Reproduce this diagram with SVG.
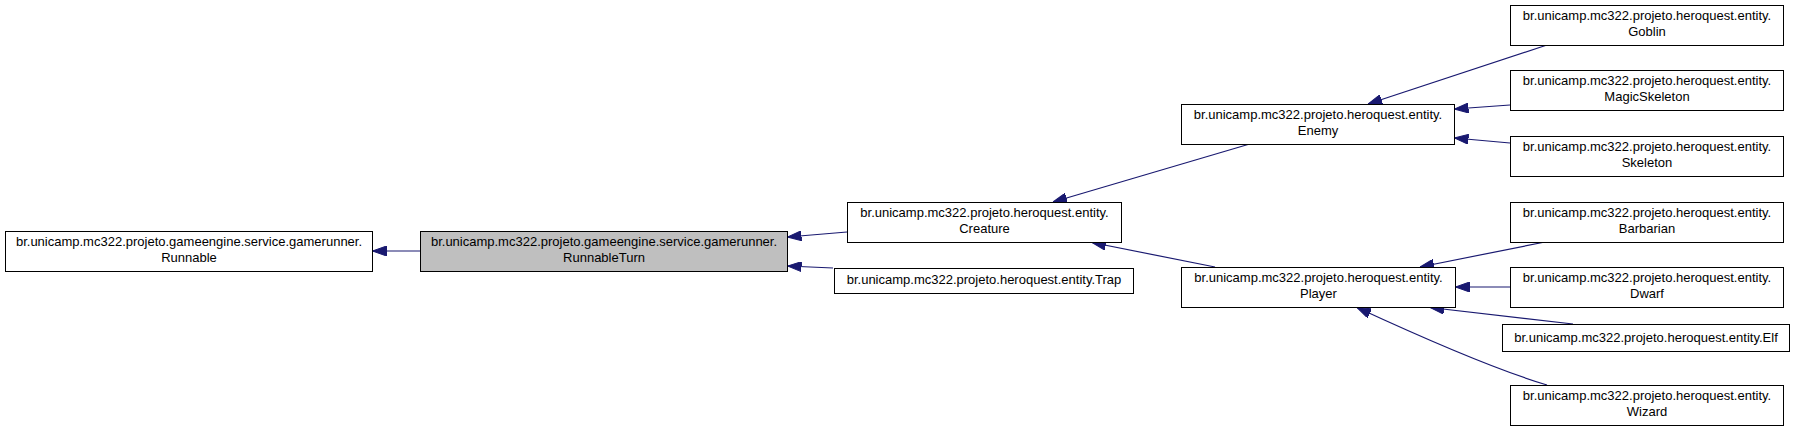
<svg xmlns="http://www.w3.org/2000/svg" width="1796" height="431" viewBox="0 0 1796 431">
<style>
.box{fill:#ffffff;stroke:#000000;stroke-width:1}
.sel{fill:#bfbfbf;stroke:#000000;stroke-width:1}
text{font-family:"Liberation Sans",Arial,Helvetica,sans-serif;font-size:13px;fill:#000000;text-anchor:middle}
.edge{fill:none;stroke:#191970;stroke-width:1.2;marker-end:url(#arr)}
</style>
<defs>
<marker id="arr" markerUnits="userSpaceOnUse" markerWidth="14" markerHeight="10" viewBox="0 0 14 10" refX="14" refY="5" orient="auto">
<path d="M0,0 L14,5 L0,10 Z" fill="#191970" stroke="#191970"/>
</marker>
</defs>
<rect width="1796" height="431" fill="#ffffff"/>
<g id="connectors">
<line class="edge" x1="420" y1="251" x2="372.5" y2="251"/>
<line class="edge" x1="847" y1="232" x2="787.5" y2="237"/>
<line class="edge" x1="833" y1="268" x2="787.5" y2="266"/>
<line class="edge" x1="1248" y1="144.5" x2="1053" y2="202"/>
<line class="edge" x1="1215" y1="267" x2="1092" y2="242.5"/>
<line class="edge" x1="1547" y1="45" x2="1368" y2="104"/>
<line class="edge" x1="1510" y1="105" x2="1454.5" y2="109"/>
<line class="edge" x1="1510" y1="143" x2="1454.5" y2="138"/>
<line class="edge" x1="1545" y1="242" x2="1420" y2="267"/>
<line class="edge" x1="1510" y1="287" x2="1455.5" y2="287"/>
<line class="edge" x1="1573" y1="324" x2="1430" y2="307.5"/>
<path class="edge" d="M1547,385 C1490,368 1410,332 1357,307.5"/>
</g>
<g id="node-runnable">
<rect class="box" x="5.5" y="231.5" width="367" height="40"/>
<text x="189" y="246">br.unicamp.mc322.projeto.gameengine.service.gamerunner.</text>
<text x="189" y="262">Runnable</text>
</g>
<g id="node-runnableturn">
<rect class="sel" x="420.5" y="231.5" width="367" height="40"/>
<text x="604" y="246">br.unicamp.mc322.projeto.gameengine.service.gamerunner.</text>
<text x="604" y="262">RunnableTurn</text>
</g>
<g id="node-creature">
<rect class="box" x="847.5" y="202.5" width="274" height="40"/>
<text x="984.5" y="217">br.unicamp.mc322.projeto.heroquest.entity.</text>
<text x="984.5" y="233">Creature</text>
</g>
<g id="node-trap">
<rect class="box" x="834.5" y="268.5" width="299" height="25"/>
<text x="984" y="284">br.unicamp.mc322.projeto.heroquest.entity.Trap</text>
</g>
<g id="node-enemy">
<rect class="box" x="1181.5" y="104.5" width="273" height="40"/>
<text x="1318" y="119">br.unicamp.mc322.projeto.heroquest.entity.</text>
<text x="1318" y="135">Enemy</text>
</g>
<g id="node-player">
<rect class="box" x="1181.5" y="267.5" width="274" height="40"/>
<text x="1318.5" y="282">br.unicamp.mc322.projeto.heroquest.entity.</text>
<text x="1318.5" y="298">Player</text>
</g>
<g id="node-goblin">
<rect class="box" x="1510.5" y="5.5" width="273" height="40"/>
<text x="1647" y="20">br.unicamp.mc322.projeto.heroquest.entity.</text>
<text x="1647" y="36">Goblin</text>
</g>
<g id="node-magicskeleton">
<rect class="box" x="1510.5" y="70.5" width="273" height="40"/>
<text x="1647" y="85">br.unicamp.mc322.projeto.heroquest.entity.</text>
<text x="1647" y="101">MagicSkeleton</text>
</g>
<g id="node-skeleton">
<rect class="box" x="1510.5" y="136.5" width="273" height="40"/>
<text x="1647" y="151">br.unicamp.mc322.projeto.heroquest.entity.</text>
<text x="1647" y="167">Skeleton</text>
</g>
<g id="node-barbarian">
<rect class="box" x="1510.5" y="202.5" width="273" height="40"/>
<text x="1647" y="217">br.unicamp.mc322.projeto.heroquest.entity.</text>
<text x="1647" y="233">Barbarian</text>
</g>
<g id="node-dwarf">
<rect class="box" x="1510.5" y="267.5" width="273" height="40"/>
<text x="1647" y="282">br.unicamp.mc322.projeto.heroquest.entity.</text>
<text x="1647" y="298">Dwarf</text>
</g>
<g id="node-elf">
<rect class="box" x="1502.5" y="324.5" width="287" height="27"/>
<text x="1646" y="342">br.unicamp.mc322.projeto.heroquest.entity.Elf</text>
</g>
<g id="node-wizard">
<rect class="box" x="1510.5" y="385.5" width="273" height="40"/>
<text x="1647" y="400">br.unicamp.mc322.projeto.heroquest.entity.</text>
<text x="1647" y="416">Wizard</text>
</g>
</svg>
